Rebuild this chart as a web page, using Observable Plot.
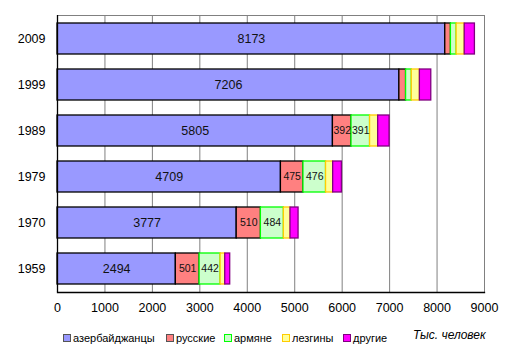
<!DOCTYPE html>
<html><head><meta charset="utf-8">
<script src="https://cdn.jsdelivr.net/npm/d3@7"></script>
<script src="https://cdn.jsdelivr.net/npm/@observablehq/plot@0.6"></script>
<style>
body{margin:0;background:#fff;font-family:"Liberation Sans",Arial,sans-serif;}
#wrap{position:relative;width:515px;height:361px;}
.lg{position:absolute;top:332px;font-size:11px;color:#000;white-space:nowrap;line-height:13px;}
.sw{display:inline-block;width:6px;height:6px;border:1px solid;margin-right:2px;vertical-align:0px;}
#unit{position:absolute;left:413px;top:328px;font-size:12px;font-style:italic;}
</style></head><body>
<div id="wrap"></div>
<script>
const years = ["2009","1999","1989","1979","1970","1959"];
const series = ["азербайджанцы","русские","армяне","лезгины","другие"];
const azeri    = [8173, 7206, 5805, 4709, 3777, 2494];
const russian  = [119, 141, 392, 475, 510, 501];
const armenian = [120, 120, 391, 476, 484, 442];
const lezgin   = [171, 171, 171, 150, 140, 98];
const other    = [215, 240, 240, 185, 170, 105];
const labelYears = ["1989","1979","1970","1959"];
const xTicks = [0,1000,2000,3000,4000,5000,6000,7000,8000,9000];
const fills   = ["#9999FF","#FF8080","#CCFFCC","#FFFF99","#FF00FF"];
const strokes = ["#000000","#000000","#00FF00","#FFCC00","#800080"];
const legendX = [63, 166, 224, 282, 343];

const valuesBySeries = [azeri, russian, armenian, lezgin, other];
const data = [];
years.forEach((y, i) => {
  series.forEach((s, j) => {
    const v = valuesBySeries[j][i];
    const lab = j === 0 || ((j === 1 || j === 2) && labelYears.includes(y));
    data.push({year: y, series: s, si: j, value: v, label: lab ? String(v) : ""});
  });
});

const chart = Plot.plot({
  width: 515, height: 361,
  marginLeft: 57, marginRight: 31, marginTop: 15, marginBottom: 69,
  style: {fontFamily: '"Liberation Sans", Arial, sans-serif', fontSize: "12px", color: "#000", background: "#fff"},
  x: {domain: [0, 9000], label: null},
  y: {domain: years, paddingInner: 0.33, paddingOuter: 0.165, label: null},
  marks: [
    Plot.ruleX(xTicks.slice(1), {stroke: "#808080", strokeWidth: 1}),
    Plot.frame({stroke: "#808080"}),
    Plot.barX(data, Plot.stackX({
      x: "value", y: "year",
      fill: d => fills[d.si], stroke: d => strokes[d.si], strokeWidth: 1.3
    })),
    Plot.textX(data.filter(d => d.si === 0), Plot.stackX({
      x: "value", y: "year", text: "label", fontSize: 12.5, fill: "#111"
    })),
    Plot.textX(data, Plot.stackX({
      x: "value", y: "year", text: d => d.si === 0 ? "" : d.label, fontSize: 10.5, fill: "#111"
    })),
    Plot.ruleX([0], {stroke: "#000", strokeWidth: 1.3}),
    Plot.frame({anchor: "bottom", stroke: "#000", strokeWidth: 1.3}),
    Plot.axisX({ticks: xTicks, tickSize: 0, tickPadding: 11, label: null, fontSize: 12.5, tickFormat: d => String(d)}),
    Plot.axisY({tickSize: 0, tickPadding: 12, label: null, fontSize: 12.5})
  ]
});
const wrap = document.getElementById("wrap");
wrap.appendChild(chart);
series.forEach((s, j) => {
  const d = document.createElement("div");
  d.className = "lg";
  d.style.left = legendX[j] + "px";
  d.innerHTML = `<span class="sw" style="background:${fills[j]};border-color:${j<2?'#555':strokes[j]}"></span>${s}`;
  wrap.appendChild(d);
});
const u = document.createElement("div");
u.id = "unit"; u.textContent = "Тыс. человек";
wrap.appendChild(u);
</script>
</body></html>
